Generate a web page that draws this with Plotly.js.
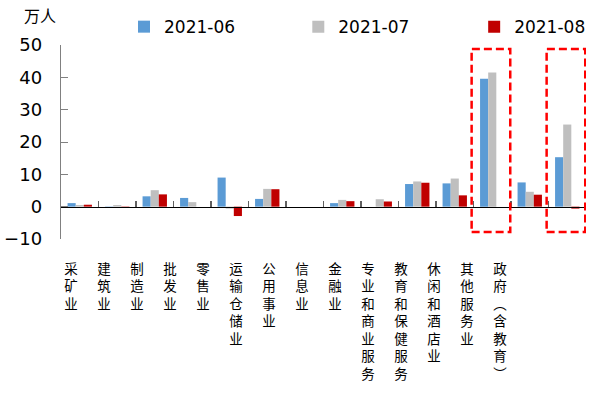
<!DOCTYPE html>
<html>
<head>
<meta charset="utf-8">
<script src="https://cdn.plot.ly/plotly-3.0.1.min.js"></script>
<style>html,body{margin:0;padding:0;background:#fff;}#chart{width:589px;height:396px;}</style>
</head>
<body>
<div id="chart"></div>
<script>
const categories = ['采矿业','建筑业','制造业','批发业','零售业','运输仓储业','公用事业','信息业','金融业','专业和商业服务','教育和保健服务','休闲和酒店业','其他服务业','政府︵含教育︶'];
const seriesNames = ['2021-06','2021-07','2021-08'];
const s06 = [1.1, -0.1, 3.2, 2.7, 9.0, 2.4, 0, 1.1, 0, 7.0, 7.2, 39.6, 7.5, 15.3];
const s07 = [0.5, 0.5, 5.1, 1.4, -0.6, 5.5, 0, 2.1, 2.3, 7.8, 8.7, 41.5, 4.6, 25.4];
const s08 = [0.6, -0.3, 3.8, 0, -2.9, 5.4, 0, 1.7, 1.6, 7.4, 3.5, 0, 3.7, -0.6];
const colors = ['#5B9BD5', '#BFBFBF', '#C00000'];
const yTicks = [-10, 0, 10, 20, 30, 40, 50];
const highlighted = ['休闲和酒店业', '政府︵含教育︶'];
const unitLabel = '万人';

const yMin = -10, yMax = 50;
const n = categories.length;
const idx = categories.map((c, i) => i);
const vertical = s => Array.from(s).join('<br>');
const legendIds = ['legend', 'legend2', 'legend3'];
const legendX = [0.12, 0.452, 0.787];

const data = [s06, s07, s08].map((vals, k) => ({
  type: 'bar', name: seriesNames[k], x: categories, y: vals, legend: legendIds[k],
  marker: {color: colors[k]}, xaxis: 'x', yaxis: 'y', hoverinfo: 'x+y+name'
}));
// invisible helper trace for the label axis
data.push({type: 'scatter', mode: 'markers', x: idx, y: idx.map(() => 0), xaxis: 'x2', yaxis: 'y',
  marker: {opacity: 0}, showlegend: false, hoverinfo: 'skip'});

// label axis: the labels are drawn with a slightly narrower pitch than the bars
const plotW = 525, labelStart = 10, labelPitch = 33;
const u = 1 / labelPitch;
const labelRange = [-labelStart * u, (plotW - labelStart) * u];

const shapes = highlighted.map(c => {
  const i = categories.indexOf(c);
  return {type: 'rect', xref: 'x', yref: 'y', x0: i - 0.55, x1: i + 0.48, y0: -7.8, y1: 48.8,
    line: {color: '#FF0000', width: 2.5, dash: '8px,4px'}, fillcolor: 'rgba(0,0,0,0)'};
});

const layout = {
  width: 589, height: 396,
  margin: {l: 61, r: 3, t: 45, b: 157, pad: 0, autoexpand: false},
  paper_bgcolor: '#fff', plot_bgcolor: '#fff',
  barmode: 'group', bargap: 0.35, bargroupgap: 0,
  showlegend: true,
  xaxis: {type: 'category', range: [-0.5, n - 0.5], anchor: 'free', position: (0 - yMin) / (yMax - yMin),
    showline: true, linecolor: '#000', linewidth: 1.3, ticks: 'inside', tickson: 'boundaries',
    ticklen: 6, tickcolor: '#606060', tickwidth: 1.5, showticklabels: false, showgrid: false, zeroline: false,
    fixedrange: true},
  xaxis2: {overlaying: 'x', anchor: 'y', side: 'bottom', type: 'linear', range: labelRange,
    tickmode: 'array', tickvals: idx, ticktext: categories.map(vertical),
    ticks: '', showline: false, showgrid: false, zeroline: false, ticklabelstandoff: 20,
    tickfont: {family: 'Liberation Serif, Noto Sans CJK SC', size: 13.5, color: '#000'}, tickangle: 0},
  yaxis: {range: [yMin, yMax], tickmode: 'array', tickvals: yTicks, ticks: 'inside', ticklen: 7,
    tickcolor: '#808080', showline: true, linecolor: '#808080', linewidth: 1.3, showgrid: false,
    zeroline: false, ticklabelstandoff: 14,
    tickfont: {family: 'DejaVu Sans', size: 18, color: '#000'}},
  shapes: shapes,
  annotations: [{text: unitLabel, xref: 'paper', yref: 'paper', x: -39 / 525, y: 1 + 30 / 194.5,
    xanchor: 'left', yanchor: 'middle', showarrow: false,
    font: {family: 'Noto Sans CJK SC', size: 16, color: '#000'}}]
};
legendIds.forEach((id, k) => {
  layout[id] = {orientation: 'h', x: legendX[k], xanchor: 'left', y: 1.185, yanchor: 'top',
    font: {family: 'DejaVu Sans', size: 17, color: '#000'}, itemwidth: 30, bgcolor: 'rgba(0,0,0,0)'};
});

Plotly.newPlot('chart', data, layout, {staticPlot: true, displayModeBar: false});
</script>
</body>
</html>
